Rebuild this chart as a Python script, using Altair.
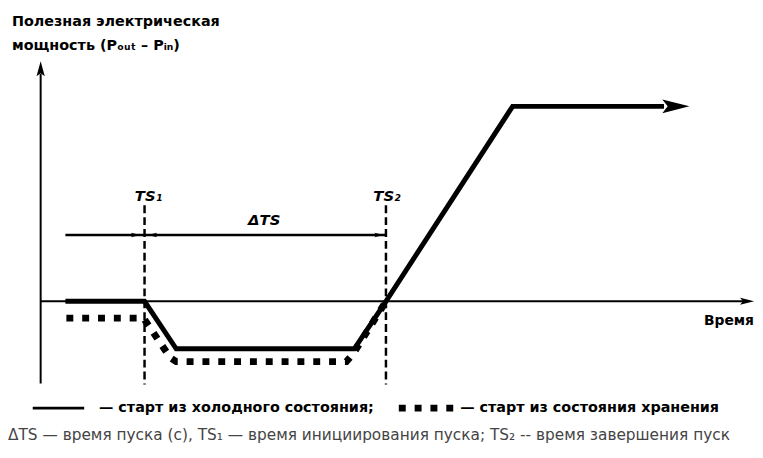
import altair as alt
import pandas as pd

# Schematic units: t = 0 on the vertical axis, P = 0 on the time axis
TS1 = 10.5
TS2 = 34.9

cold_t = [2.5, TS1, 13.7, 31.7, TS2, 47.7, 63.0]
cold_p = [0.0, 0.0, -4.8, -4.8, 0.0, 19.7, 19.7]

stor_t = [2.6, 10.4, 13.1, 13.7, 30.9, 31.6, TS2]
stor_p = [-1.7, -1.7, -5.7, -6.1, -6.1, -5.3, 0.0]

legend_t = [-0.8, 4.4, 36.2, 42.0]
legend_p = -10.8

title_lines = ["Полезная электрическая", "мощность (Pₒᵤₜ – Pᵢₙ)"]
legend_texts = ["— старт из холодного состояния;", "— старт из состояния хранения"]
caption = "ΔTS — время пуска (с), TS₁ — время инициирования пуска; TS₂ -- время завершения пуск"
x_label = "Время"
ts_labels = ["TS₁", "TS₂", "ΔTS"]

W, H = 755, 450
xs = alt.Scale(domain=[-3.3, 72.2], nice=False, zero=False)
ys = alt.Scale(domain=[-15.6, 29.4], nice=False, zero=False)


def X(f):
    return alt.X(f, type="quantitative", scale=xs, axis=None)


def Y(f):
    return alt.Y(f, type="quantitative", scale=ys, axis=None)


BOLD = "DejaVu Sans, sans-serif"

cold = pd.DataFrame({"t": cold_t, "p": cold_p, "i": range(len(cold_t))})
stor = pd.DataFrame({"t": stor_t, "p": stor_p, "i": range(len(stor_t))})

# axes
axes_h = pd.DataFrame({"t": [0.0], "t2": [71.0], "p": [0.0]})
axes_v = pd.DataFrame({"t": [0.0], "p": [-8.3], "p2": [23.0]})
x_axis = alt.Chart(axes_h).mark_rule(strokeWidth=2, color="#000").encode(
    x=X("t"), x2="t2", y=Y("p"))
y_axis = alt.Chart(axes_v).mark_rule(strokeWidth=2, color="#000").encode(
    x=X("t"), y=Y("p"), y2="p2")

ARROW_R = "M1,0 L-1,-0.5 L-0.6,0 L-1,0.5 Z"
ARROW_L = "M-1,0 L1,-0.5 L0.6,0 L1,0.5 Z"
ARROW_U = "M0,-1 L-0.55,1 L0,0.6 L0.55,1 Z"

arrows_df = pd.DataFrame({
    "t": [71.4, 0.0, 64.2],
    "p": [0.0, 23.5, 19.7],
    "kind": ["xr", "yu", "cr"],
})
x_arrow = alt.Chart(arrows_df[arrows_df.kind == "xr"]).mark_point(
    shape=ARROW_R, size=200, filled=True, color="#000", opacity=1).encode(x=X("t"), y=Y("p"))
y_arrow = alt.Chart(arrows_df[arrows_df.kind == "yu"]).mark_point(
    shape=ARROW_U, size=230, filled=True, color="#000", opacity=1).encode(x=X("t"), y=Y("p"))
c_arrow = alt.Chart(arrows_df[arrows_df.kind == "cr"]).mark_point(
    shape=ARROW_R, size=750, filled=True, color="#000", opacity=1).encode(x=X("t"), y=Y("p"))

# TS dashed verticals
ts_df = pd.DataFrame({"t": [TS1, TS2], "p": [9.7, 9.7], "p2": [-8.4, -8.4]})
ts_lines = alt.Chart(ts_df).mark_rule(strokeWidth=2.5, strokeDash=[8, 4], color="#000").encode(
    x=X("t"), y=Y("p"), y2="p2")

# delta TS dimension
dts_df = pd.DataFrame({"t": [2.5], "t2": [TS2], "p": [6.7]})
dts_line = alt.Chart(dts_df).mark_rule(strokeWidth=2.5, color="#000").encode(
    x=X("t"), x2="t2", y=Y("p"))
dts_r = pd.DataFrame({"t": [9.6, 34.2], "p": [6.7, 6.7]})
dts_l = pd.DataFrame({"t": [11.3], "p": [6.7]})
dts_ar = alt.Chart(dts_r).mark_point(shape=ARROW_R, size=90, filled=True, color="#000", opacity=1).encode(
    x=X("t"), y=Y("p"))
dts_al = alt.Chart(dts_l).mark_point(shape=ARROW_L, size=90, filled=True, color="#000", opacity=1).encode(
    x=X("t"), y=Y("p"))

# curves
cold_line = alt.Chart(cold).mark_line(strokeWidth=5, color="#000", strokeJoin="miter").encode(
    x=X("t"), y=Y("p"), order="i:Q")
stor_line = alt.Chart(stor).mark_line(strokeWidth=7, strokeDash=[7, 9], color="#000").encode(
    x=X("t"), y=Y("p"), order="i:Q")

# legend
leg_solid = alt.Chart(pd.DataFrame({"t": [legend_t[0]], "t2": [legend_t[1]], "p": [legend_p]})).mark_rule(
    strokeWidth=3, color="#000").encode(x=X("t"), x2="t2", y=Y("p"))
leg_dot = alt.Chart(pd.DataFrame({"t": [legend_t[2]], "t2": [legend_t[3]], "p": [legend_p]})).mark_rule(
    strokeWidth=7, strokeDash=[7, 9], color="#000").encode(x=X("t"), x2="t2", y=Y("p"))
leg_text = alt.Chart(pd.DataFrame({"t": [5.9, 42.4], "p": [legend_p, legend_p], "s": legend_texts})).mark_text(
    align="left", baseline="middle", font=BOLD, fontWeight="bold", fontSize=14.5, color="#000").encode(
    x=X("t"), y=Y("p"), text="s:N")

# texts
title = alt.Chart(pd.DataFrame({"t": [-2.9, -2.9], "p": [28.2, 25.8], "s": title_lines})).mark_text(
    align="left", baseline="middle", font=BOLD, fontWeight="bold", fontSize=14.5, color="#000").encode(
    x=X("t"), y=Y("p"), text="s:N")
xlab = alt.Chart(pd.DataFrame({"t": [72.1], "p": [-2.0], "s": [x_label]})).mark_text(
    align="right", baseline="middle", font=BOLD, fontWeight="bold", fontSize=14, color="#000").encode(
    x=X("t"), y=Y("p"), text="s:N")
ts_text = alt.Chart(pd.DataFrame({"t": [10.9, 35.0, 22.6], "p": [10.6, 10.6, 8.2], "s": ts_labels})).mark_text(
    align="center", baseline="middle", font=BOLD, fontStyle="italic", fontWeight="bold",
    fontSize=15, color="#000").encode(x=X("t"), y=Y("p"), text="s:N")
cap = alt.Chart(pd.DataFrame({"t": [-3.3], "p": [-13.5], "s": [caption]})).mark_text(
    align="left", baseline="middle", font="DejaVu Sans, sans-serif", fontSize=15.5, color="#444").encode(
    x=X("t"), y=Y("p"), text="s:N")

chart = alt.layer(
    x_axis, y_axis, x_arrow, y_arrow, ts_lines, dts_line, dts_ar, dts_al,
    stor_line, cold_line, c_arrow, leg_solid, leg_dot, leg_text,
    title, xlab, ts_text, cap,
).properties(width=W, height=H, padding=0, autosize=alt.AutoSizeParams(type="none")).configure_view(stroke=None)

chart.save("out.html", embed_options={"renderer": "svg", "actions": False})
